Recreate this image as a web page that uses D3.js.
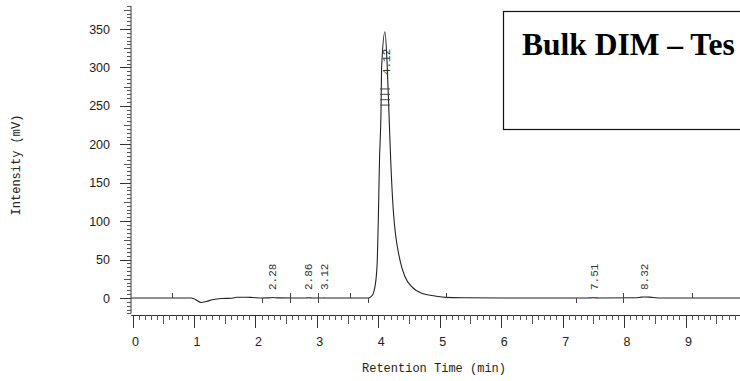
<!DOCTYPE html>
<html>
<head>
<meta charset="utf-8">
<script src="https://cdn.jsdelivr.net/npm/d3@7"></script>
<style>
  html, body { margin: 0; padding: 0; background: #fff; overflow: hidden; }
  svg { display: block; }
</style>
</head>
<body>
<div id="chart"></div>
<script>
'use strict';

// chromatogram trace (min, mV)
var times = [-0.02, 0.6, 0.95, 1.0, 1.05, 1.115, 1.2, 1.3, 1.45, 1.62, 1.7, 1.85, 1.95, 2.1, 2.22, 2.28, 2.36, 2.6,
  2.82, 2.86, 2.92, 3.1, 3.12, 3.15, 3.5, 3.84, 3.893, 3.919, 3.946, 3.967, 3.984, 4.0, 4.02, 4.044, 4.055,
  4.109, 4.146, 4.174, 4.202, 4.244, 4.353, 4.435, 4.544, 4.706, 4.923, 5.1, 5.4, 6.0, 7.4, 7.51, 7.6,
  8.2, 8.28, 8.32, 8.42, 8.55, 10.0];
var intensity = [0, 0, 0, -1, -3.2, -5.8, -4.6, -2.2, -0.6, -0.3, 0.9, 1.0, 0.7, 0, 0.2, 0.6, 0.2, 0,
  0, 0.3, 0, 0, 0.2, 0, 0, 0, 2.6, 6.1, 14.7, 27.7, 49.4, 100, 180, 240.7, 301,
  346.5, 301, 240.7, 179.5, 114.5, 49.4, 27.7, 14.7, 6.1, 2.6, 0.8, 0.3, 0, 0, 0.3, 0,
  0.3, 1.2, 1.3, 1.1, 0, 0];

// retention times of the labelled peaks
var peakTimes = [2.28, 2.86, 3.12, 4.12, 7.51, 8.32];
var peakLabels = ['2.28', '2.86', '3.12', '4.12', '7.51', '8.32'];

// integration event marks along the baseline: time, direction (1 up, -1 down, 0 cross)
var eventTimes = [0.65, 2.1, 2.56, 3.02, 3.54, 3.84, 5.11, 7.22, 7.98, 9.1];
var eventDirs = [1, -1, 0, 0, 1, -1, 1, -1, 0, 1];

// hatch lines drawn across the top of the main peak
var hatchLevels = [251, 258, 265, 272];

var xTickValues = [0, 1, 2, 3, 4, 5, 6, 7, 8, 9];
var yTickValues = [0, 50, 100, 150, 200, 250, 300, 350];

// only the visible part of the title (the picture is cropped at the right)
var title = 'Bulk DIM \u2013 Tes';

var width = 740, height = 381;

var svg = d3.select('#chart').append('svg')
  .attr('width', width)
  .attr('height', height);

var x = d3.scaleLinear().domain([0, 9]).range([132.5, 685.5]);
var y = d3.scaleLinear().domain([0, 350]).range([298, 29]);

var xMin = -0.02, xMax = 10.2;
var yMin = -20, yMax = 380;
var axisY = 315;
var axisX = 131;

var monoFont = '"Liberation Mono", "DejaVu Sans Mono", monospace';
var sansFont = '"Liberation Sans", Arial, sans-serif';

// ---- y axis ----
var yMinor = d3.range(yMin, yMax + 1, 5).filter(function (v) { return v % 25 !== 0; });
var yMid = d3.range(-25, yMax + 1, 50).filter(function (v) { return v >= yMin; });

var gy = svg.append('g').attr('transform', 'translate(' + axisX + ',0)');
gy.append('line')
  .attr('x1', 0).attr('x2', 0)
  .attr('y1', y(yMax)).attr('y2', y(yMin))
  .attr('stroke', '#333').attr('stroke-width', 1);
gy.selectAll('line.minor').data(yMinor).join('line')
  .attr('class', 'minor')
  .attr('x1', -4).attr('x2', 0)
  .attr('y1', function (d) { return Math.round(y(d)) + 0.5; })
  .attr('y2', function (d) { return Math.round(y(d)) + 0.5; })
  .attr('stroke', '#555').attr('stroke-width', 1);
gy.selectAll('line.mid').data(yMid).join('line')
  .attr('class', 'mid')
  .attr('x1', -7).attr('x2', 0)
  .attr('y1', function (d) { return Math.round(y(d)) + 0.5; })
  .attr('y2', function (d) { return Math.round(y(d)) + 0.5; })
  .attr('stroke', '#555').attr('stroke-width', 1);
gy.selectAll('line.major').data(yTickValues).join('line')
  .attr('class', 'major')
  .attr('x1', -11).attr('x2', 0)
  .attr('y1', function (d) { return Math.round(y(d)) + 0.5; })
  .attr('y2', function (d) { return Math.round(y(d)) + 0.5; })
  .attr('stroke', '#333').attr('stroke-width', 1);
gy.selectAll('text').data(yTickValues).join('text')
  .attr('x', -21)
  .attr('y', function (d) { return y(d); })
  .attr('dy', '0.36em')
  .attr('text-anchor', 'end')
  .attr('font-family', sansFont)
  .attr('font-size', 12.5)
  .attr('fill', '#222')
  .text(function (d) { return d; });

// ---- x axis ----
var xMinor = d3.range(0, 102).map(function (i) { return i / 10; }).filter(function (v) { return Math.round(v * 10) % 5 !== 0; });
var xMid = d3.range(0, 10).map(function (i) { return i + 0.5; });
var xMajor = d3.range(0, 11);

var gx = svg.append('g').attr('transform', 'translate(0,' + axisY + ')');
gx.append('line')
  .attr('x1', x(xMin)).attr('x2', x(xMax))
  .attr('y1', 0.5).attr('y2', 0.5)
  .attr('stroke', '#333').attr('stroke-width', 1);
gx.selectAll('line.minor').data(xMinor).join('line')
  .attr('class', 'minor')
  .attr('x1', function (d) { return Math.round(x(d)) + 0.5; })
  .attr('x2', function (d) { return Math.round(x(d)) + 0.5; })
  .attr('y1', 0).attr('y2', 5)
  .attr('stroke', '#555').attr('stroke-width', 1);
gx.selectAll('line.mid').data(xMid).join('line')
  .attr('class', 'mid')
  .attr('x1', function (d) { return Math.round(x(d)) + 0.5; })
  .attr('x2', function (d) { return Math.round(x(d)) + 0.5; })
  .attr('y1', 0).attr('y2', 9)
  .attr('stroke', '#555').attr('stroke-width', 1);
gx.selectAll('line.major').data(xMajor).join('line')
  .attr('class', 'major')
  .attr('x1', function (d) { return Math.round(x(d)) + 0.5; })
  .attr('x2', function (d) { return Math.round(x(d)) + 0.5; })
  .attr('y1', 0).attr('y2', 13)
  .attr('stroke', '#333').attr('stroke-width', 1);
gx.selectAll('text').data(xTickValues).join('text')
  .attr('x', function (d) { return x(d) + 3; })
  .attr('y', 26)
  .attr('dy', '0.36em')
  .attr('text-anchor', 'middle')
  .attr('font-family', sansFont)
  .attr('font-size', 12.5)
  .attr('fill', '#222')
  .text(function (d) { return d; });

// ---- axis titles ----
svg.append('text')
  .attr('x', 434)
  .attr('y', 372)
  .attr('text-anchor', 'middle')
  .attr('font-family', monoFont)
  .attr('font-size', 12)
  .attr('fill', '#222')
  .text('Retention Time (min)');

svg.append('text')
  .attr('transform', 'translate(20,165) rotate(-90)')
  .attr('text-anchor', 'middle')
  .attr('font-family', monoFont)
  .attr('font-size', 12)
  .attr('fill', '#222')
  .text('Intensity (mV)');

// ---- trace ----
var pts = times.map(function (t, i) { return [t, intensity[i]]; });
var line = d3.line()
  .x(function (d) { return x(d[0]); })
  .y(function (d) { return y(d[1]); })
  .curve(d3.curveMonotoneX);

svg.append('path')
  .datum(pts)
  .attr('d', line)
  .attr('fill', 'none')
  .attr('stroke', '#222')
  .attr('stroke-width', 1.1);

// hatch lines at peak apex
var peakIdx = intensity.indexOf(d3.max(intensity));
svg.selectAll('line.hatch').data(hatchLevels).join('line')
  .attr('class', 'hatch')
  .attr('x1', x(times[peakIdx]) - 5)
  .attr('x2', x(times[peakIdx]) + 5)
  .attr('y1', function (d) { return y(d); })
  .attr('y2', function (d) { return y(d); })
  .attr('stroke', '#444').attr('stroke-width', 1);

// integration event marks
svg.selectAll('line.event').data(eventTimes).join('line')
  .attr('class', 'event')
  .attr('x1', function (d) { return Math.round(x(d)) + 0.5; })
  .attr('x2', function (d) { return Math.round(x(d)) + 0.5; })
  .attr('y1', function (d, i) { return eventDirs[i] === -1 ? y(0) : y(0) - 5; })
  .attr('y2', function (d, i) { return eventDirs[i] === 1 ? y(0) : y(0) + 5; })
  .attr('stroke', '#444').attr('stroke-width', 1);

// peak labels
svg.selectAll('text.peak').data(peakTimes).join('text')
  .attr('class', 'peak')
  .attr('transform', function (d, i) {
    var ty = peakLabels[i] === '4.12' ? y(290) : y(0) - 8;
    return 'translate(' + x(d) + ',' + ty + ') rotate(-90)';
  })
  .attr('dy', '0.35em')
  .attr('text-anchor', 'start')
  .attr('font-family', monoFont)
  .attr('font-size', 11)
  .attr('fill', '#333')
  .text(function (d, i) { return peakLabels[i]; });

// ---- title box ----
svg.append('rect')
  .attr('x', 503.5).attr('y', 11.5)
  .attr('width', 300).attr('height', 118)
  .attr('fill', '#fff')
  .attr('stroke', '#111').attr('stroke-width', 1.2);

svg.append('text')
  .attr('x', 522)
  .attr('y', 55)
  .attr('font-family', '"Liberation Serif", "Times New Roman", serif')
  .attr('font-weight', 'bold')
  .attr('font-size', 31.5)
  .attr('fill', '#000')
  .text(title);
</script>
</body>
</html>
